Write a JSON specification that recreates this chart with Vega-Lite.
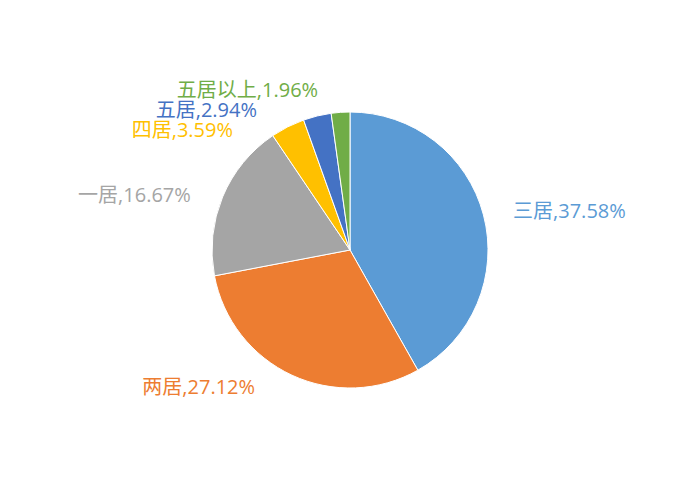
{
  "$schema": "https://vega.github.io/schema/vega-lite/v6.json",
  "autosize": {"type": "fit", "contains": "padding"},
  "width": 700,
  "height": 500,
  "background": "white",
  "view": {"stroke": null},
  "data": {
    "values": [
      {"i": 1, "name": "三居", "pct": 37.58, "label": "三居,37.58%"},
      {"i": 2, "name": "两居", "pct": 27.12, "label": "两居,27.12%"},
      {"i": 3, "name": "一居", "pct": 16.67, "label": "一居,16.67%"},
      {"i": 4, "name": "四居", "pct": 3.59, "label": "四居,3.59%"},
      {"i": 5, "name": "五居", "pct": 2.94, "label": "五居,2.94%"},
      {"i": 6, "name": "五居以上", "pct": 1.96, "label": "五居以上,1.96%"}
    ]
  },
  "encoding": {
    "theta": {"field": "pct", "type": "quantitative", "stack": true},
    "order": {"field": "i", "type": "quantitative"},
    "color": {
      "field": "name",
      "type": "nominal",
      "legend": null,
      "scale": {
        "domain": ["三居", "两居", "一居", "四居", "五居", "五居以上"],
        "range": ["#5B9BD5", "#ED7D31", "#A5A5A5", "#FFC000", "#4472C4", "#70AD47"]
      }
    }
  },
  "layer": [
    {"mark": {"type": "arc", "radius": 138, "stroke": "white", "strokeWidth": 1}},
    {
      "mark": {"type": "text", "radius": 150, "dx": 18, "align": "left", "baseline": "middle", "font": "Open Sans, Noto Sans CJK SC", "fontSize": 20},
      "encoding": {"text": {"condition": {"test": "datum.name === '三居'", "field": "label"}, "value": ""}}
    },
    {
      "mark": {"type": "text", "radius": 152, "dx": -31, "align": "right", "baseline": "middle", "font": "Open Sans, Noto Sans CJK SC", "fontSize": 20},
      "encoding": {"text": {"condition": {"test": "datum.name === '两居'", "field": "label"}, "value": ""}}
    },
    {
      "mark": {"type": "text", "radius": 141, "dx": -29, "align": "right", "baseline": "middle", "font": "Open Sans, Noto Sans CJK SC", "fontSize": 20},
      "encoding": {"text": {"condition": {"test": "datum.name === '一居'", "field": "label"}, "value": ""}}
    },
    {
      "mark": {"type": "text", "radius": 133, "dx": -57, "align": "right", "baseline": "middle", "font": "Open Sans, Noto Sans CJK SC", "fontSize": 20},
      "encoding": {"text": {"condition": {"test": "datum.name === '四居'", "field": "label"}, "value": ""}}
    },
    {
      "mark": {"type": "text", "radius": 143, "dx": -59, "align": "right", "baseline": "middle", "font": "Open Sans, Noto Sans CJK SC", "fontSize": 20},
      "encoding": {"text": {"condition": {"test": "datum.name === '五居'", "field": "label"}, "value": ""}}
    },
    {
      "mark": {"type": "text", "radius": 159, "dx": -21, "align": "right", "baseline": "middle", "font": "Open Sans, Noto Sans CJK SC", "fontSize": 20},
      "encoding": {"text": {"condition": {"test": "datum.name === '五居以上'", "field": "label"}, "value": ""}}
    }
  ]
}
